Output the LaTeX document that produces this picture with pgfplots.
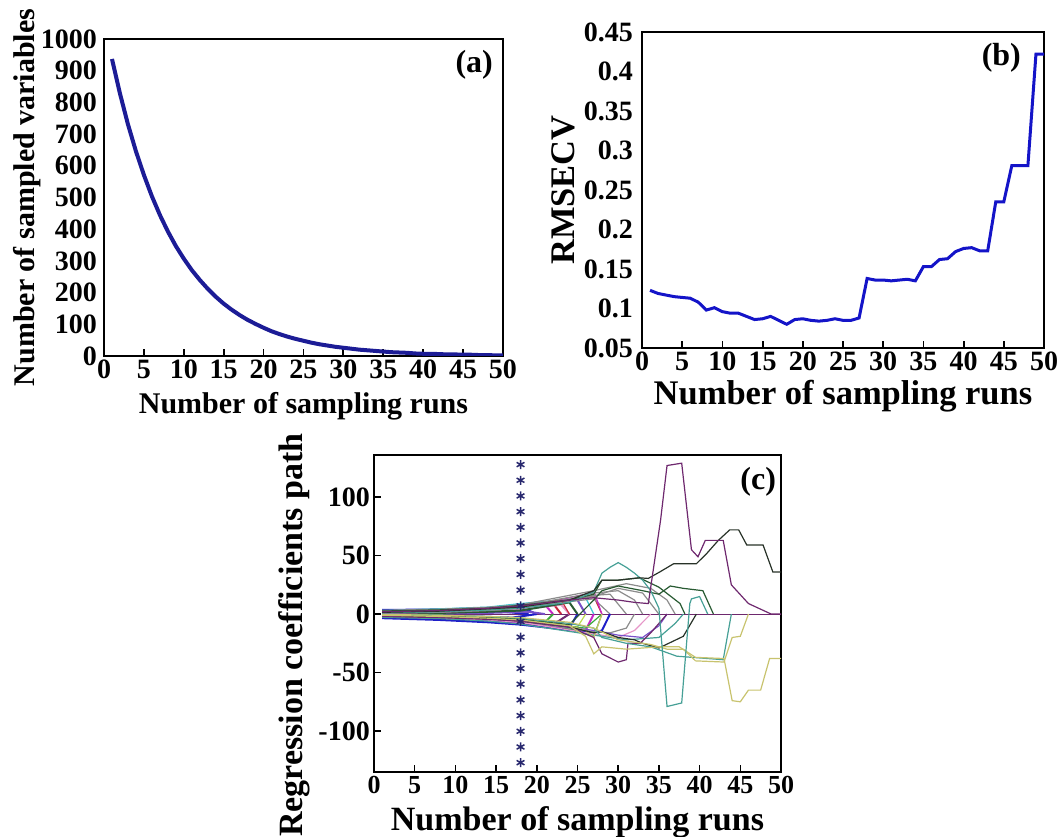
\documentclass[border=0pt]{standalone}
\usepackage{fontspec}
\setmainfont{Liberation Serif}
\usepackage{pgfplots}
\pgfplotsset{compat=1.18}

\definecolor{ablue}{RGB}{28,28,150}
\definecolor{bblue}{RGB}{20,20,200}
\definecolor{cstar}{RGB}{40,40,110}
\definecolor{cpurple}{RGB}{110,40,110}
\definecolor{cblack}{RGB}{40,50,40}
\definecolor{cteal}{RGB}{70,160,150}
\definecolor{ckhaki}{RGB}{200,195,110}
\definecolor{cdgreen}{RGB}{40,90,50}
\definecolor{cgray}{RGB}{140,140,140}
\definecolor{cmag}{RGB}{200,40,200}
\definecolor{cblue}{RGB}{30,30,200}
\definecolor{cgreen}{RGB}{60,170,60}
\definecolor{cred}{RGB}{200,40,60}
\definecolor{ccyan}{RGB}{60,200,210}
\definecolor{cpink}{RGB}{230,150,200}
\definecolor{cyel}{RGB}{190,220,80}
\definecolor{cviolet}{RGB}{120,80,200}

\newcommand\fs[1]{\fontsize{#1}{#1}\selectfont\bfseries}

\pgfplotsset{
  panel/.style={
    scale only axis,
    axis line style={line width=2.5pt},
    xmin=0, xmax=50, xtick={0,5,...,50},
    tick align=inside, xtick pos=lower, ytick pos=left,
    major tick length=7pt,
    tick style={line width=1.8pt, black},
    /pgf/number format/assume math mode=true,
    /pgf/number format/set thousands separator={},
    xticklabel style={inner sep=0pt, anchor=north, yshift=-4pt},
    yticklabel style={inner sep=0pt, anchor=east, xshift=-7pt},
    xlabel style={inner sep=0pt, anchor=north},
    ylabel style={inner sep=0pt, anchor=north},
  },
  cl/.style={line width=1.2pt},
  bl/.style={line width=2pt},
}

\begin{document}
\begin{tikzpicture}[x=1pt,y=1pt]
\useasboundingbox (0,0) rectangle (1061,836);

% (a) number of sampled variables
\begin{axis}[panel,
  at={(104pt,480pt)}, anchor=south west,
  width=399pt, height=317pt,
  ymin=0, ymax=1000, ytick={0,100,...,1000},
  ytick style={draw=none},
  tick label style={font=\fs{28}},
  label style={font=\fs{30}},
  xlabel={Number of sampling runs},
  ylabel={Number of sampled variables},
  xlabel style={at={(axis description cs:0.5,-0.1136)}},
  ylabel style={at={(axis description cs:-0.2281,0.5)}},
]
\addplot[ablue, line width=4pt] coordinates {
  (1,937)(2,828)(3,731)(4,646)(5,571)(6,504)(7,445)(8,393)(9,347)(10,307)
  (11,271)(12,240)(13,212)(14,187)(15,165)(16,146)(17,129)(18,114)(19,101)(20,89)
  (21,78)(22,69)(23,61)(24,54)(25,48)(26,42)(27,37)(28,33)(29,29)(30,26)
  (31,23)(32,20)(33,18)(34,16)(35,14)(36,12)(37,11)(38,10)(39,8)(40,7)
  (41,7)(42,6)(43,5)(44,5)(45,4)(46,4)(47,3)(48,3)(49,2)(50,2)
};
\node[anchor=north east, inner sep=0pt, font=\fs{32}] at (rel axis cs:0.975,0.965) {(a)};
\end{axis}

% (b) RMSECV
\begin{axis}[panel,
  at={(642pt,488pt)}, anchor=south west,
  width=402pt, height=316pt,
  ymin=0.05, ymax=0.45, ytick={0.05,0.1,0.15,0.2,0.25,0.3,0.35,0.4,0.45},
  ytick style={draw=none},
  yticklabel style={/pgf/number format/fixed, /pgf/number format/precision=2, xshift=-2pt},
  tick label style={font=\fs{28}},
  label style={font=\fs{34.5}},
  xlabel={Number of sampling runs},
  ylabel={RMSECV},
  xlabel style={at={(axis description cs:0.5,-0.1013)}},
  ylabel style={at={(axis description cs:-0.2244,0.5)}},
]
\addplot[bblue, line width=3pt] coordinates {
  (1,0.123)(2,0.119)(3,0.117)(4,0.115)(5,0.114)(6,0.113)(7,0.108)(8,0.098)(9,0.101)(10,0.096)
  (11,0.094)(12,0.094)(13,0.090)(14,0.086)(15,0.087)(16,0.090)(17,0.085)(18,0.080)(19,0.086)(20,0.087)
  (21,0.085)(22,0.084)(23,0.085)(24,0.087)(25,0.085)(26,0.085)(27,0.088)(28,0.138)(29,0.136)(30,0.136)
  (31,0.135)(32,0.136)(33,0.137)(34,0.135)(35,0.153)(36,0.153)(37,0.162)(38,0.163)(39,0.172)(40,0.176)
  (41,0.177)(42,0.173)(43,0.173)(44,0.235)(45,0.235)(46,0.281)(47,0.281)(48,0.281)(49,0.422)(50,0.422)
};
\node[anchor=north east, inner sep=0pt, font=\fs{32}] at (rel axis cs:0.943,0.965) {(b)};
\end{axis}

% (c) regression coefficients path
\begin{axis}[panel,
  at={(374pt,64pt)}, anchor=south west,
  width=407pt, height=317pt,
  ymin=-135, ymax=136, ytick={-100,-50,0,50,100},
  xtick style={line width=1.5pt},
  xticklabel style={font=\fs{26}},
  yticklabel style={font=\fs{28}, xshift=3pt},
  label style={font=\fs{34}},
  xlabel={Number of sampling runs},
  ylabel={Regression coefficients path},
  xlabel style={at={(axis description cs:0.5,-0.1073)}},
  ylabel style={at={(axis description cs:-0.2359,0.432)}},
]
\addplot[cpurple, line width=1pt] coordinates {(1,0)(50,0)};
% coefficients eliminated early (dense band)
\addplot[cblue, bl] coordinates {(1,3.5)(8,4)(14,5)(18,6)(20,0)};
\addplot[cblue, bl] coordinates {(1,1)(5,1)(10,1.5)(16,2)(19,0)};
\addplot[cblue, bl] coordinates {(1,-1)(6,-1.2)(12,-2)(17,-3)(20,0)};
\addplot[cviolet, bl] coordinates {(1,0.3)(8,0.5)(14,1)(19,2)(21,0)};
\addplot[cmag, bl] coordinates {(1,2.5)(8,3)(14,4.5)(18,7)(21,8)(22,0)};
\addplot[cgreen, bl] coordinates {(1,-2)(8,-3)(14,-4.5)(18,-6)(21,-7)(22,0)};
\addplot[cred, bl] coordinates {(1,1.5)(8,2.5)(14,4)(18,5.5)(22,9)(23,0)};
\addplot[cpurple, bl] coordinates {(1,-1.5)(8,-2.5)(14,-5)(18,-7)(22,-9)(24,0)};
\addplot[cpink, bl] coordinates {(1,1)(8,2)(14,3)(18,4)(23,8)(24,0)};
\addplot[cblue, bl] coordinates {(1,-3)(8,-3.5)(14,-5.5)(18,-8)(24,-12)(25,0)};
\addplot[cdgreen, bl] coordinates {(1,0.5)(8,1)(14,2)(18,3)(24,10)(25,0)};
\addplot[cviolet, bl] coordinates {(1,2)(8,3.5)(14,5)(18,8)(25,12)(26,0)};
\addplot[cyel, cl] coordinates {(1,-0.5)(8,-1.5)(14,-3)(18,-5)(25,-11)(26,0)};
\addplot[ccyan, cl] coordinates {(1,3)(8,4.5)(14,6)(18,9)(26,14)(27,0)};
\addplot[cmag, bl] coordinates {(1,-2.5)(8,-4)(14,-6)(18,-8)(26,-14)(27,0)};
\addplot[cgreen, cl] coordinates {(1,-1)(8,-2)(14,-4)(18,-6)(26,-12)(28,0)};
\addplot[cred, cl] coordinates {(1,2.2)(8,3.5)(14,5.5)(18,7.5)(27,15)(28,0)};
\addplot[cgray, cl] coordinates {(1,1.2)(8,2)(14,4)(18,6)(27,13)(29,0)};
\addplot[cblue, bl] coordinates {(1,-3.5)(8,-5)(14,-7)(18,-9)(27,-16)(28,-14)(29,0)};
\addplot[cmag, cl] coordinates {(1,0.6)(8,1.6)(14,3.5)(18,6)(22,11)(26,17)(27,20)(28,0)};
\addplot[cgreen, cl] coordinates {(1,-0.2)(8,-0.8)(14,-2.5)(18,-4)(22,-9)(26,-17)(27,-19)(28,0)};
\addplot[cred, cl] coordinates {(1,2)(8,3)(14,4)(18,6)(21,10)(23,12)(24,0)};
% coefficients eliminated in the middle
\addplot[cgray, cl] coordinates {(1,1.8)(8,2.8)(14,4.2)(18,6.5)(27,16)(29,17)(31,0)};
\addplot[cgray, cl] coordinates {(1,-1.8)(8,-2.8)(14,-4.5)(18,-6.5)(27,-15)(29,-16)(31,-12)(32,0)};
\addplot[cgray, cl] coordinates {(1,2.8)(8,3.8)(14,5)(18,7)(27,18)(30,20)(32,12)(33,0)};
\addplot[cpink, cl] coordinates {(1,-2.2)(8,-3.2)(14,-5)(18,-7)(27,-17)(30,-20)(32,-14)(34,0)};
\addplot[cgray, cl] coordinates {(1,0.8)(8,1.5)(14,3)(18,5)(27,15)(30,22)(33,18)(35,0)};
\addplot[cviolet, cl] coordinates {(1,-1.2)(8,-2)(14,-3.5)(18,-5.5)(27,-14)(30,-18)(33,-20)(35,-10)(36,0)};
\addplot[cgray, cl] coordinates {(1,3.2)(8,4.2)(14,5.8)(18,8)(27,20)(31,26)(34,22)(36,12)(37,0)};
\addplot[cteal, cl] coordinates {(1,-2.8)(8,-3.8)(14,-6)(18,-8.5)(27,-18)(31,-22)(35,-20)(37,-8)(38,0)};
\addplot[ckhaki, cl] coordinates {(1,-1.2)(8,-2.2)(14,-3.8)(18,-5.5)(24,-10)(26,-14)(27,-20)(28,0)};
% coefficients kept longest
\addplot[cdgreen, cl] coordinates {(1,2.6)(8,3.6)(14,5)(18,7.5)(24,12)(27,17)(28,29)(30,29)(32.6,31)(35,23)(37.6,9)(38.2,0)};
\addplot[cdgreen, cl] coordinates {(1,-0.8)(8,-1.6)(14,-3)(18,-4.5)(24,-9)(27,12)(28,20)(30,24)(33,20)(35,17)(36.4,24)(38,22)(40.4,20)(41.7,0)};
\addplot[cblack, cl] coordinates {(1,-1.5)(8,-2.5)(14,-4)(18,-6)(24,-11)(27,-16)(28,-15)(30,-20)(32,-22)(33,-25)(35,-29)(38,-19)(39.6,0)};
\addplot[cpurple, cl] coordinates {(1,-2)(8,-3)(14,-4.5)(18,-6)(24,-11)(27,-20)(28,-34)(30,-41)(31,-39)(31.2,-25)(32.7,-25)(34,-16)(35,-8)(36,0)};
\addplot[cteal, cl] coordinates {(1,-0.5)(8,-1)(14,-2)(18,-3.5)(24,-8)(27,-12)(28,-20)(31,-25)(34,-28)(37.2,-36)(42.9,-39)(43.9,0)};
\addplot[ckhaki, cl] coordinates {(1,-0.3)(8,-1)(14,-2)(18,-3)(24,-7)(27,-12)(30,-22)(34,-26)(36,-30)(38,-30)(39.5,-40)(43,-41)(44,-20)(45,-19)(46,0)};
\addplot[ckhaki, cl] coordinates {(1,-1)(8,-2)(14,-3.5)(18,-5)(24,-10)(26,-19)(27,-34)(28,-28)(31,-30)(35,-28)(37.5,-28)(39.5,-37)(43,-38)(44,-74)(45,-75)(46,-65)(47.5,-65)(48.6,-38)(50,-38)};
\addplot[cteal, cl] coordinates {(1,1)(8,2)(14,3.5)(18,5)(24,10)(27,19)(28,35)(29,40)(30,44)(31,40)(32,35)(33,29)(34,20)(35,5)(36,-79)(37.8,-76)(38.8,9)(39,13)(40,15)(41,0)};
\addplot[cblack, cl] coordinates {(1,1.5)(8,2.5)(14,4.5)(18,6)(24,12)(27,20)(28,29)(30,29)(32.6,31)(33.7,30.5)(35.1,36)(36.8,43)(39.6,43)(40.9,52)(42.3,63)(43.7,72)(44.8,72)(45.8,59)(47.8,59)(49,36)(50,36)};
\addplot[cpurple, cl] coordinates {(1,2)(8,3)(14,5)(18,7)(24,12)(27,14)(30,12)(32,10)(33.7,9)(35.2,80)(36,127)(37.8,129)(39,55)(39.8,49)(40.7,63)(42.9,63)(43.9,25)(46,9)(48.8,0)(50,0)};
% selected run
\addplot[only marks, mark=asterisk, mark size=4.5pt, cstar, mark options={line width=1.5pt}] coordinates {
  (18,-127)(18,-113.6)(18,-100.2)(18,-86.8)(18,-73.3)(18,-59.9)(18,-46.5)(18,-33.1)(18,-19.7)(18,-6.3)
  (18,7.1)(18,20.5)(18,33.9)(18,47.4)(18,60.8)(18,74.2)(18,87.6)(18,101.0)(18,114.4)(18,127.8)
};
\node[anchor=north east, inner sep=0pt, font=\fs{32}] at (rel axis cs:0.988,0.962) {(c)};
\end{axis}
\end{tikzpicture}
\end{document}
